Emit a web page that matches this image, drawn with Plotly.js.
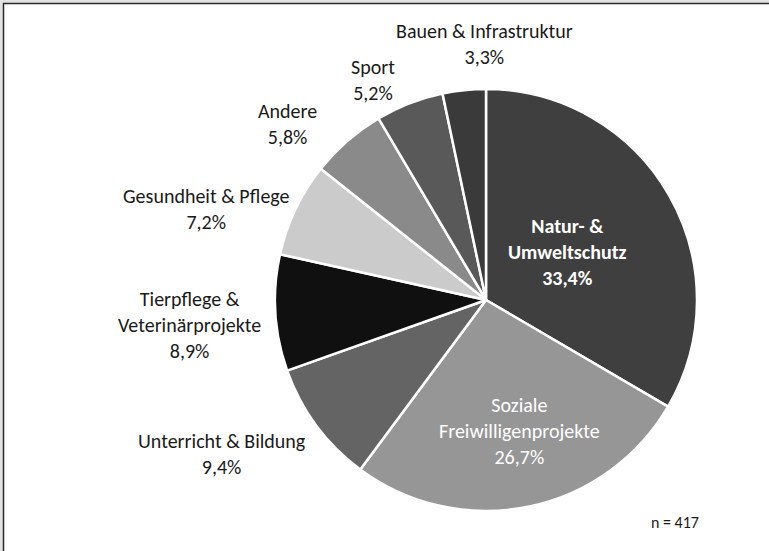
<!DOCTYPE html>
<html>
<head>
<meta charset="utf-8">
<script src="https://cdn.plot.ly/plotly-3.0.1.min.js"></script>
<style>
  html, body { margin: 0; padding: 0; background: #fff; }
  #plotDiv { width: 769px; height: 551px; }
</style>
</head>
<body>
<div id="plotDiv"></div>
<script>
"use strict";

// Slices, clockwise from 12 o'clock
const categories = [
    'Natur- &<br>Umweltschutz',
    'Soziale<br>Freiwilligenprojekte',
    'Unterricht & Bildung',
    'Tierpflege &<br>Veterinärprojekte',
    'Gesundheit & Pflege',
    'Andere',
    'Sport',
    'Bauen & Infrastruktur'
];
const shares = [33.4, 26.7, 9.4, 8.9, 7.2, 5.8, 5.2, 3.3];
const sampleNote = 'n = 417';

// Styles and label placement (pixel centres of each label block)
const sliceColors = ['#3f3f3f', '#969696', '#646464', '#101010', '#cbcbcb', '#8a8a8a', '#595959', '#3a3a3a'];
const labelSpots = [[567, 252], [519, 431], [222, 454], [189, 325], [207, 209], [287, 124], [373, 80], [484, 44]];
const labelColors = ['#ffffff', '#ffffff', '#1a1a1a', '#1a1a1a', '#1a1a1a', '#1a1a1a', '#1a1a1a', '#1a1a1a'];
const labelBold = [true, false, false, false, false, false, false, false];

const FONT = 'Carlito, Calibri, Lato, sans-serif';
const W = 769, H = 551;

// pixel -> paper helpers (margins are zero)
const px = v => v / W;
const py = v => 1 - v / H;

const fmtPct = v => v.toFixed(1).replace('.', ',') + '%';

const trace = {
    type: 'pie',
    labels: categories,
    values: shares,
    sort: false,
    direction: 'clockwise',
    rotation: 0,
    marker: { colors: sliceColors, line: { color: '#ffffff', width: 2.5 } },
    textinfo: 'none',
    hoverinfo: 'none',
    showlegend: false,
    automargin: false,
    domain: { x: [px(275), px(697)], y: [py(511), py(89)] }
};

const sliceLabels = categories.map((c, i) => {
    const txt = c + '<br>' + fmtPct(shares[i]);
    return {
        text: labelBold[i] ? '<b>' + txt + '</b>' : txt,
        x: px(labelSpots[i][0]), y: py(labelSpots[i][1]),
        xref: 'paper', yref: 'paper',
        xanchor: 'center', yanchor: 'middle',
        align: 'center',
        showarrow: false,
        font: { family: FONT, size: 20, color: labelColors[i] }
    };
});

const layout = {
    width: W,
    height: H,
    margin: { l: 0, r: 0, t: 0, b: 0 },
    paper_bgcolor: '#ffffff',
    font: { family: FONT, color: '#1a1a1a' },
    showlegend: false,
    annotations: sliceLabels.concat([{
        text: sampleNote,
        x: px(675), y: py(522),
        xref: 'paper', yref: 'paper',
        xanchor: 'center', yanchor: 'middle',
        showarrow: false,
        font: { family: FONT, size: 16, color: '#1a1a1a' }
    }]),
    // frame of the cropped screenshot
    shapes: [
        { type: 'rect', xref: 'paper', yref: 'paper', x0: 0, x1: 1, y0: py(3), y1: 1, fillcolor: '#e2e2e2', line: { width: 0 } },
        { type: 'rect', xref: 'paper', yref: 'paper', x0: 0, x1: px(3), y0: 0, y1: 1, fillcolor: '#e2e2e2', line: { width: 0 } },
        { type: 'line', xref: 'paper', yref: 'paper', x0: px(3), x1: 1, y0: py(3.5), y1: py(3.5), line: { color: '#2a2a2a', width: 1.5 } },
        { type: 'line', xref: 'paper', yref: 'paper', x0: px(3.5), x1: px(3.5), y0: 0, y1: py(3), line: { color: '#2a2a2a', width: 1.5 } }
    ]
};

Plotly.newPlot('plotDiv', [trace], layout, { staticPlot: true });
</script>
</body>
</html>
